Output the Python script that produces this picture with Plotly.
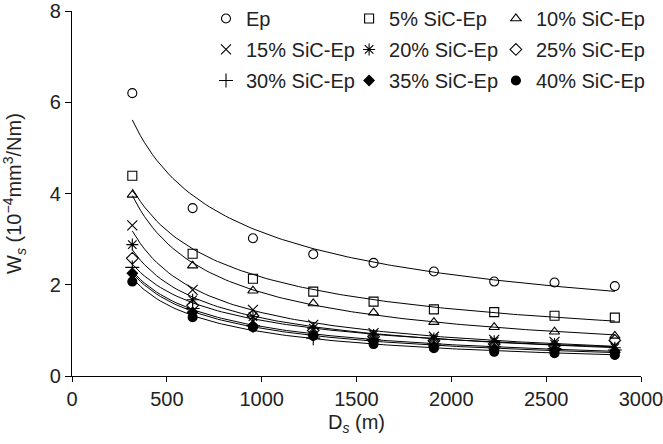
import numpy as np
import plotly.graph_objects as go

distance = [318, 636, 954, 1272, 1590, 1908, 2226, 2544, 2862]

series_names = ["Ep", "5% SiC-Ep", "10% SiC-Ep", "15% SiC-Ep", "20% SiC-Ep",
                "25% SiC-Ep", "30% SiC-Ep", "35% SiC-Ep", "40% SiC-Ep"]

ep      = [6.20, 3.68, 3.02, 2.67, 2.48, 2.29, 2.07, 2.05, 1.97]
sic_5   = [4.39, 2.68, 2.13, 1.85, 1.63, 1.46, 1.40, 1.32, 1.28]
sic_10  = [3.97, 2.42, 1.87, 1.59, 1.39, 1.18, 1.07, 0.97, 0.88]
sic_15  = [3.30, 1.89, 1.45, 1.12, 0.94, 0.86, 0.79, 0.75, 0.66]
sic_20  = [2.88, 1.67, 1.30, 1.05, 0.90, 0.82, 0.76, 0.70, 0.62]
sic_25  = [2.58, 1.55, 1.32, 1.00, 0.86, 0.77, 0.70, 0.66, 0.78]
sic_30  = [2.38, 1.48, 1.10, 0.83, 0.80, 0.70, 0.64, 0.60, 0.57]
sic_35  = [2.25, 1.40, 1.10, 0.90, 0.76, 0.66, 0.60, 0.56, 0.52]
sic_40  = [2.07, 1.29, 1.07, 0.88, 0.70, 0.61, 0.53, 0.50, 0.46]

all_series = [ep, sic_5, sic_10, sic_15, sic_20, sic_25, sic_30, sic_35, sic_40]

symbols = ["circle-open", "square-open", "triangle-up-open", "x-thin-open",
           "asterisk-open", "diamond-open", "cross-thin-open", "diamond", "circle"]
sizes = [9, 9, 9, 10, 10, 9, 10, 8, 9]
legend_ids = ["legend", "legend2", "legend3"] * 3

FONT = "Liberation Sans, Arial, Helvetica, sans-serif"
FS = 20
TXT = "#222"

fig = go.Figure()

x_arr = np.array(distance, dtype=float)
x_fit = np.linspace(x_arr.min(), x_arr.max(), 120)

# power-law trend lines (fitted from the data)
for vals in all_series:
    b, loga = np.polyfit(np.log(x_arr), np.log(np.array(vals)), 1)
    y_fit = np.exp(loga) * x_fit ** b
    fig.add_trace(go.Scatter(x=x_fit, y=y_fit, mode="lines",
                             line=dict(color="black", width=1),
                             showlegend=False, hoverinfo="skip"))

for i, (name, vals) in enumerate(zip(series_names, all_series)):
    fig.add_trace(go.Scatter(
        x=distance, y=vals, mode="markers", name=name,
        legend=legend_ids[i], legendgroup=name,
        marker=dict(symbol=symbols[i], size=sizes[i], color="black",
                    line=dict(color="black", width=1.1)),
    ))

legend_common = dict(
    font=dict(family=FONT, size=FS, color=TXT),
    bgcolor="rgba(0,0,0,0)", borderwidth=0,
    itemwidth=30, tracegroupgap=2,
    xanchor="left", yanchor="top", orientation="v",
)

fig.update_layout(
    width=663, height=444,
    margin=dict(l=72, r=22, t=11, b=68, autoexpand=False),
    paper_bgcolor="white", plot_bgcolor="white",
    font=dict(family=FONT, size=FS, color=TXT),
    legend=dict(x=0.2355, y=1.033, **legend_common),
    legend2=dict(x=0.487, y=1.033, **legend_common),
    legend3=dict(x=0.745, y=1.033, **legend_common),
    xaxis=dict(
        range=[0, 3000], tickmode="array",
        tickvals=[0, 500, 1000, 1500, 2000, 2500, 3000],
        showgrid=False, zeroline=False, showline=True, automargin=False,
        linecolor="black", linewidth=1.2, ticklabeloverflow="allow",
        ticks="outside", ticklen=5, tickcolor="black",
        tickfont=dict(family=FONT, size=FS, color=TXT),
        title=dict(text="D<sub><i>s</i></sub> (m)", standoff=5,
                   font=dict(family=FONT, size=FS, color=TXT)),
    ),
    yaxis=dict(
        range=[0, 8], tickmode="array", tickvals=[0, 2, 4, 6, 8],
        showgrid=False, zeroline=False, showline=True, automargin=False,
        linecolor="black", linewidth=1.2, ticklabeloverflow="allow",
        ticks="outside", ticklen=6, tickcolor="black",
        tickfont=dict(family=FONT, size=FS, color=TXT),
        title=dict(text="W<sub><i>s</i></sub> (10<sup>−4</sup>mm<sup>3</sup>/Nm)",
                   standoff=28,
                   font=dict(family=FONT, size=FS, color=TXT)),
    ),
)

fig.write_html(
    "out.html",
    config={"displayModeBar": False},
    post_script="document.body.style.margin='0';document.body.style.overflow='hidden';",
)
